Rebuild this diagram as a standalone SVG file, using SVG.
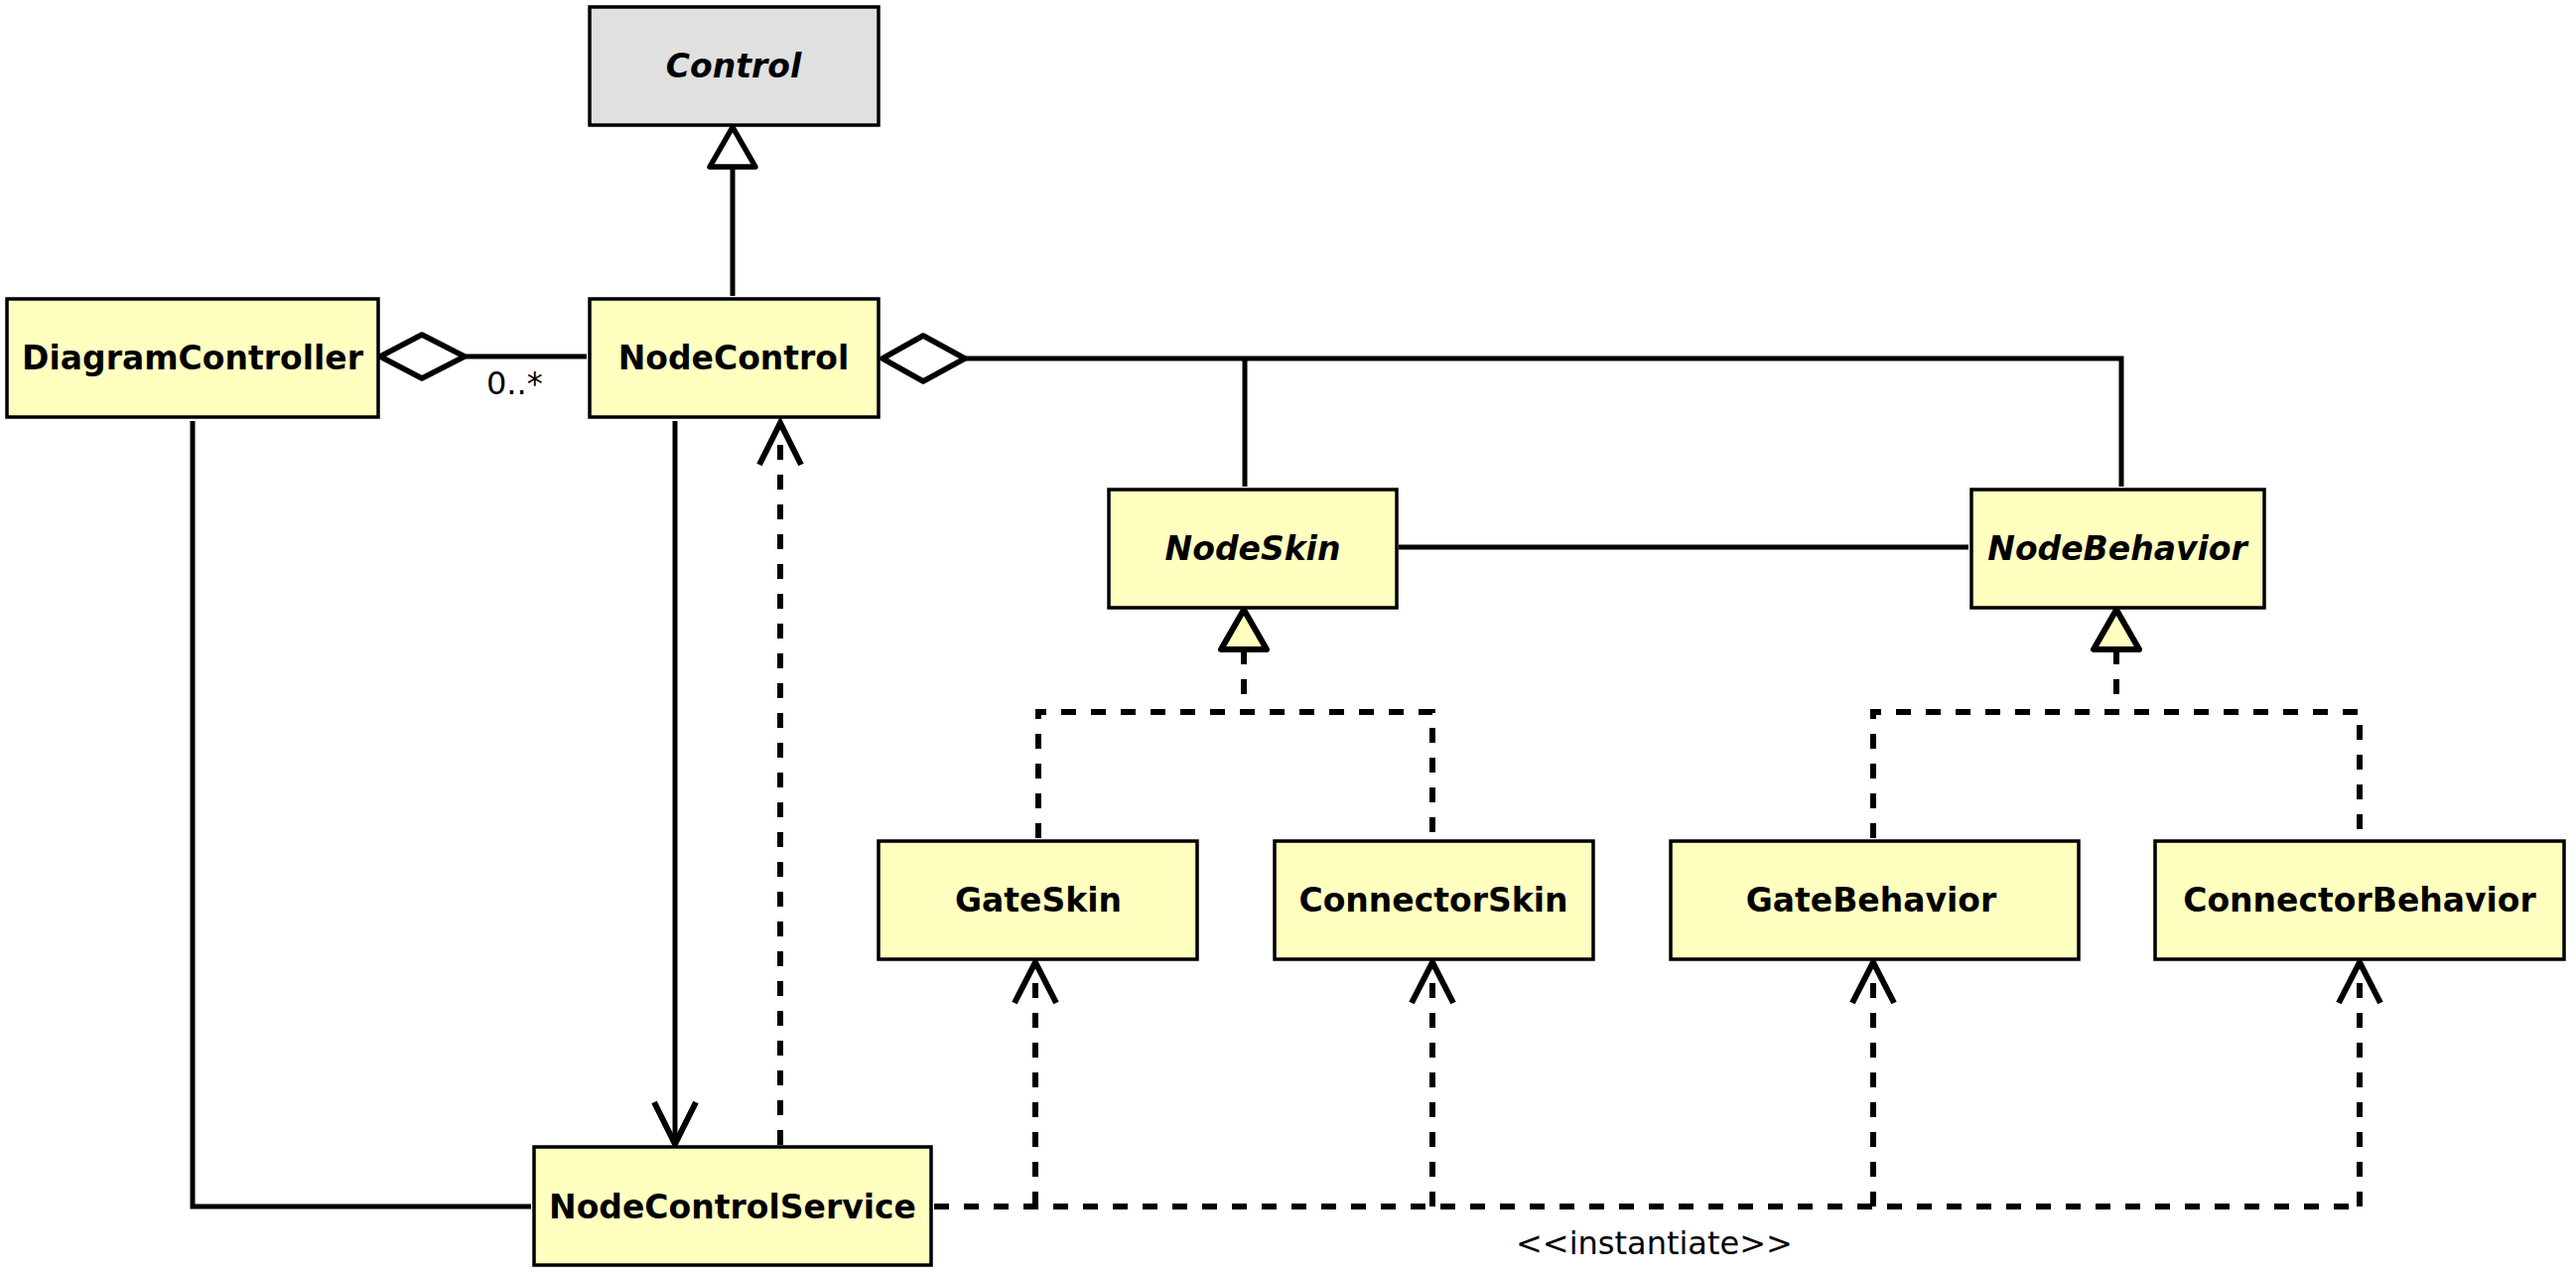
<svg xmlns="http://www.w3.org/2000/svg" width="2595" height="1287" viewBox="0 0 2595 1287">
<style>
.box{fill:#ffffc0;stroke:#000;stroke-width:3.5}
.abs{fill:#e0e0e0;stroke:#000;stroke-width:3.5}
.t{font-family:"DejaVu Sans",sans-serif;font-weight:bold;font-size:33px;text-anchor:middle;fill:#000}
.i{font-style:italic}
.lbl{font-family:"DejaVu Sans",sans-serif;font-size:32px;fill:#000}
.ln{fill:none;stroke:#000;stroke-width:5}
.dash{fill:none;stroke:#000;stroke-width:6;stroke-dasharray:15,15}
.arr{fill:none;stroke:#000;stroke-width:6}
.hollow{fill:#fff;stroke:#000;stroke-width:5.5;stroke-linejoin:round}
.real{fill:#ffffc0;stroke:#000;stroke-width:6;stroke-linejoin:round}
</style>
<rect width="2595" height="1287" fill="#fff"/>
<g id="connectors">
<line class="ln" x1="738" y1="298" x2="738" y2="168"/>
<polygon class="hollow" points="738,128 715,168 761,168"/>
<line class="ln" x1="468" y1="359" x2="591" y2="359"/>
<polygon class="hollow" points="383,359 425,337 468,359 425,381"/>
<text class="lbl" x="490" y="397">0..*</text>
<path class="ln" d="M972 361 H2137 V490 M1254 361 V490"/>
<polygon class="hollow" points="889,361 930,338 972,361 930,384"/>
<line class="ln" x1="1409" y1="551" x2="1983" y2="551"/>
<path class="dash" d="M1253 654 V717 M1046 844 V717 H1443 V844"/>
<polygon class="real" points="1253,614 1230,654 1276,654"/>
<path class="dash" d="M2132 654 V717 M1887 844 V717 H2377 V844"/>
<polygon class="real" points="2132,614 2109,654 2155,654"/>
<line class="ln" x1="680" y1="424" x2="680" y2="1150"/>
<polyline class="arr" points="659,1110 680,1152 701,1110"/>
<line class="dash" x1="786" y1="1153" x2="786" y2="430"/>
<polyline class="arr" points="765,468 786,426 807,468"/>
<polyline class="ln" points="194,424 194,1215 535,1215"/>
<path class="dash" d="M941 1215 H2377 M1043 1215 V972 M1443 1215 V972 M1887 1215 V972 M2377 1215 V972"/>
<polyline class="arr" points="1022,1010 1043,969 1064,1010"/>
<polyline class="arr" points="1422,1010 1443,969 1464,1010"/>
<polyline class="arr" points="1866,1010 1887,969 1908,1010"/>
<polyline class="arr" points="2356,1010 2377,969 2398,1010"/>
<text class="lbl" x="1527" y="1263">&lt;&lt;instantiate&gt;&gt;</text>
</g>
<g id="Control"><rect class="abs" x="594" y="7" width="291" height="119"/><text class="t i" x="739" y="78">Control</text></g>
<g id="DiagramController"><rect class="box" x="7" y="301" width="374" height="119"/><text class="t" x="194" y="372">DiagramController</text></g>
<g id="NodeControl"><rect class="box" x="594" y="301" width="291" height="119"/><text class="t" x="739" y="372">NodeControl</text></g>
<g id="NodeSkin"><rect class="box" x="1117" y="493" width="290" height="119"/><text class="t i" x="1262" y="564">NodeSkin</text></g>
<g id="NodeBehavior"><rect class="box" x="1986" y="493" width="295" height="119"/><text class="t i" x="2133" y="564">NodeBehavior</text></g>
<g id="GateSkin"><rect class="box" x="885" y="847" width="321" height="119"/><text class="t" x="1046" y="918">GateSkin</text></g>
<g id="ConnectorSkin"><rect class="box" x="1284" y="847" width="321" height="119"/><text class="t" x="1444" y="918">ConnectorSkin</text></g>
<g id="GateBehavior"><rect class="box" x="1683" y="847" width="411" height="119"/><text class="t" x="1885" y="918">GateBehavior</text></g>
<g id="ConnectorBehavior"><rect class="box" x="2171" y="847" width="412" height="119"/><text class="t" x="2377" y="918">ConnectorBehavior</text></g>
<g id="NodeControlService"><rect class="box" x="538" y="1155" width="400" height="119"/><text class="t" x="738" y="1227">NodeControlService</text></g>
</svg>
